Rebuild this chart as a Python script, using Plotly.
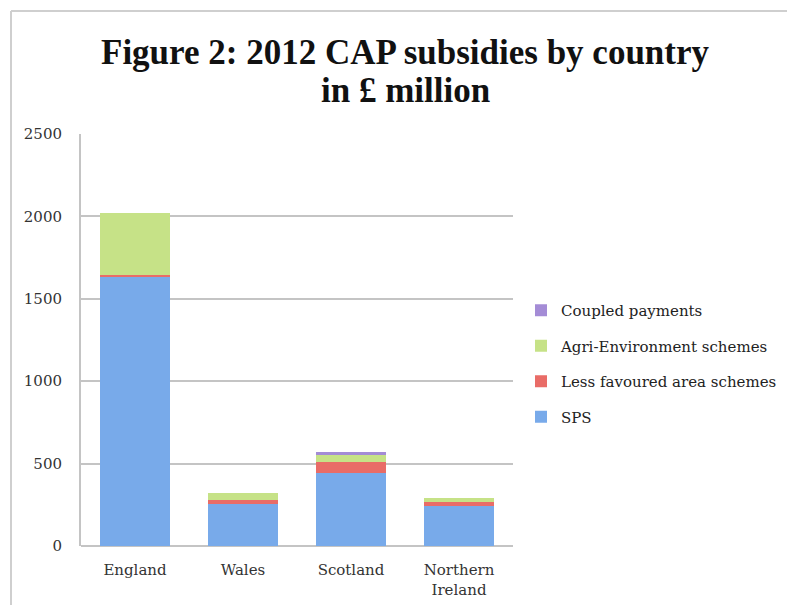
import plotly.graph_objects as go

# 2012 CAP subsidies by UK country, £ million
countries = ["England", "Wales", "Scotland", "Northern<br>Ireland"]
sps = [1636, 256, 444, 244]
less_favoured = [6, 22, 63, 21]
agri_env = [378, 44, 46, 28]
coupled = [0, 0, 18, 0]

y_ticks = [0, 500, 1000, 1500, 2000, 2500]

# stacking order bottom -> top; legend lists them top -> bottom
series = [
    ("SPS", sps, "#78aaea"),
    ("Less favoured area schemes", less_favoured, "#e96c67"),
    ("Agri-Environment schemes", agri_env, "#c6e287"),
    ("Coupled payments", coupled, "#a48cd6"),
]

fig = go.Figure()
for i, (name, vals, col) in enumerate(series):
    fig.add_trace(go.Bar(
        x=countries, y=vals, name=name,
        marker=dict(color=col, line=dict(width=0)),
        legendgroup=f"g{i}", legendrank=len(series) - i,
    ))

W, H = 787, 605
L, R, T, B = 81, 274, 134, 59
pw = W - L - R
ph = H - T - B

serif = "DejaVu Serif"
grid = "#c4c4c4"


def px_x(p):
    return (p - L) / pw


def px_y(p):
    return (T + ph - p) / ph


fig.update_layout(
    width=W, height=H,
    margin=dict(l=L, r=R, t=T, b=B, autoexpand=False),
    paper_bgcolor="white", plot_bgcolor="white",
    barmode="stack", bargap=0.35,
    legend=dict(
        x=px_x(521), xanchor="left",
        y=px_y(294), yanchor="top",
        traceorder="grouped", tracegroupgap=13,
        itemwidth=30,
        font=dict(family=serif, size=15, color="#222222"),
        bgcolor="rgba(0,0,0,0)",
    ),
    font=dict(family=serif, size=15, color="#333333"),
)

title_font = dict(family="Liberation Serif", size=35, color="#111111", weight="bold")
for text, ypix in [("Figure 2: 2012 CAP subsidies by country", 52),
                   ("in £ million", 90)]:
    fig.add_annotation(
        text=text, xref="paper", yref="paper",
        x=px_x(405), y=px_y(ypix), xanchor="center", yanchor="middle",
        showarrow=False, font=title_font,
    )

fig.update_yaxes(
    range=[0, 2500], tickvals=y_ticks, ticktext=[str(v) for v in y_ticks],
    showgrid=True, gridcolor=grid, gridwidth=2,
    showline=True, linecolor=grid, linewidth=2,
    zeroline=True, zerolinecolor=grid, zerolinewidth=2,
    ticks="", ticklabelstandoff=14,
    tickfont=dict(family=serif, size=15, color="#333333"),
)
fig.update_xaxes(
    showgrid=False, showline=False, ticks="", ticklabelstandoff=13,
    tickfont=dict(family=serif, size=15, color="#333333"),
)

# outer frame of the chart card (left and top edges)
frame = "#cfcfcf"
fig.add_shape(type="line", xref="paper", yref="paper",
              x0=px_x(11), x1=px_x(11), y0=px_y(11), y1=px_y(H + 5),
              line=dict(color=frame, width=2))
fig.add_shape(type="line", xref="paper", yref="paper",
              x0=px_x(11), x1=px_x(W + 5), y0=px_y(11), y1=px_y(11),
              line=dict(color=frame, width=2))

fig.write_html("out.html")
